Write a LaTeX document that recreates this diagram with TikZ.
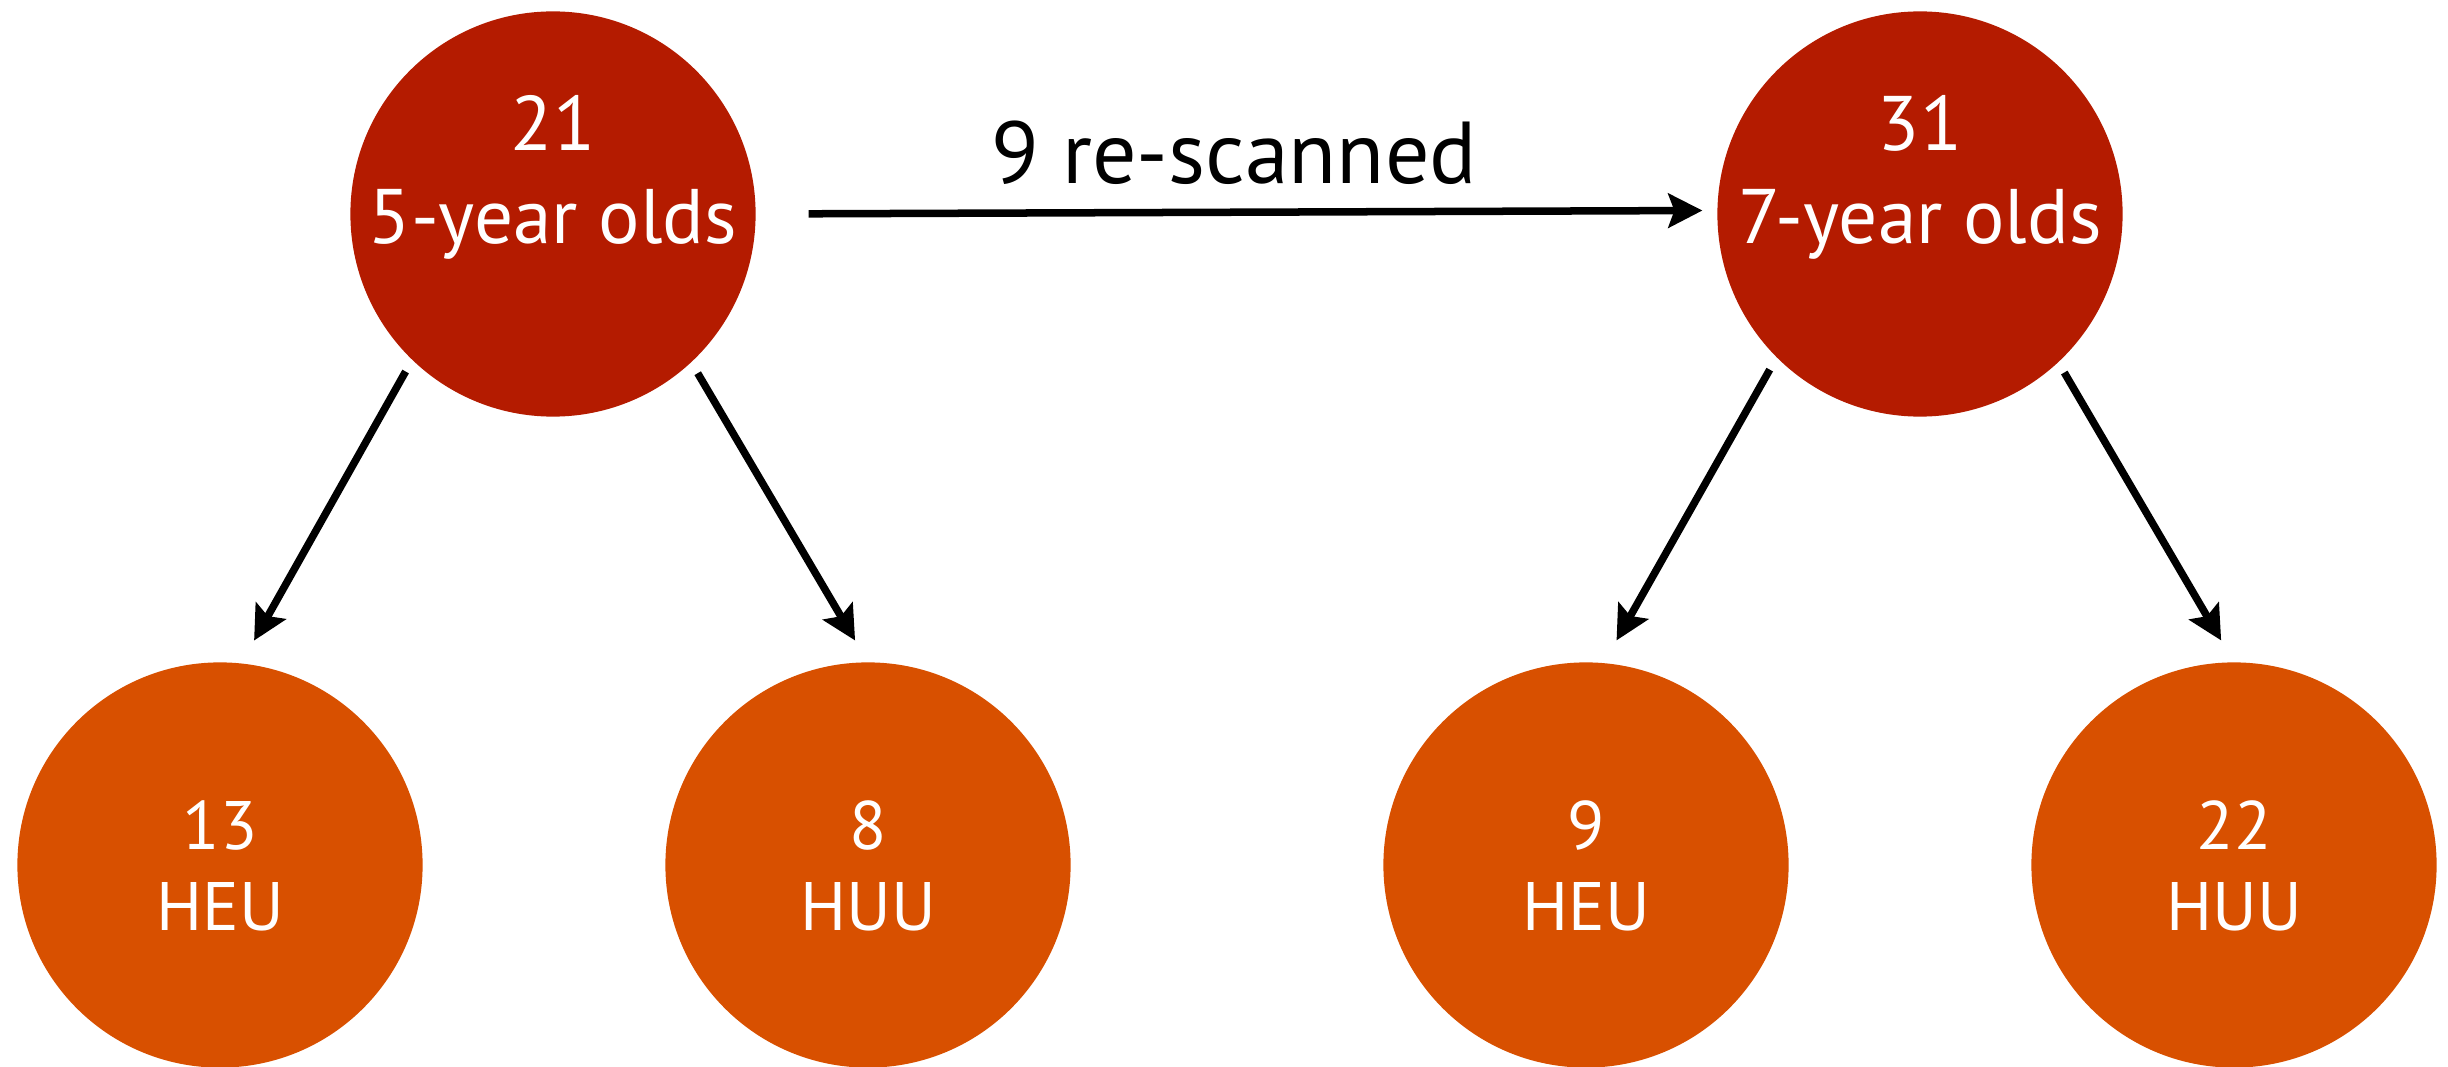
\documentclass[tikz,border=0pt]{standalone}
\usepackage{fontspec}
\setmainfont{PT Sans}
\usetikzlibrary{arrows.meta}
\definecolor{topred}{HTML}{B41B00}
\definecolor{botorange}{HTML}{D85000}
\begin{document}
\begin{tikzpicture}[x=0.01cm,y=-0.01cm,
  topc/.style={circle,fill=topred,minimum size=4.05cm,inner sep=0pt,outer sep=0pt},
  botc/.style={circle,fill=botorange,minimum size=4.05cm,inner sep=0pt,outer sep=0pt},
  toptxt/.style={text=white,font=\fontsize{22}{26}\selectfont,anchor=base,inner sep=0pt},
  bottxt/.style={text=white,font=\fontsize{19.5}{23}\selectfont,anchor=base,inner sep=0pt},
  lbl/.style={text=black,font=\fontsize{25}{29}\selectfont,anchor=base,inner sep=0pt},
  arr/.style={line width=0.075cm,-{Stealth[length=0.34cm,width=0.34cm,inset=0.06cm]}}]
\useasboundingbox (0,0) rectangle (2448,1067);
% circles
\node[topc] (t1) at (553,214) {};
\node[topc] (t2) at (1920,214) {};
\node[botc] (b1) at (220,865) {};
\node[botc] (b2) at (868,865) {};
\node[botc] (b3) at (1586,865) {};
\node[botc] (b4) at (2234,865) {};
% texts
\node[toptxt] (t1n) at (553,151) {21};
\node[toptxt] (t1a) at (553,244) {5-year olds};
\node[toptxt] (t2n) at (1920,151) {31};
\node[toptxt] (t2a) at (1920,244) {7-year olds};
\node[bottxt] (b1n) at (220,849) {13};
\node[bottxt] (b1a) at (220,930) {HEU};
\node[bottxt] (b2n) at (868,849) {8};
\node[bottxt] (b2a) at (868,930) {HUU};
\node[bottxt] (b3n) at (1586,849) {9};
\node[bottxt] (b3a) at (1586,930) {HEU};
\node[bottxt] (b4n) at (2234,849) {22};
\node[bottxt] (b4a) at (2234,930) {HUU};
\node[lbl] (rs) at (1234,184) {9 re-scanned};
% arrows
\draw[arr, shorten <=0.53cm, shorten >=0.15cm] (t1.0.85) -- (t2.179.15);
\draw[arr, shorten <=0.135cm, shorten >=0.263cm] (t1.226) -- (b1.84.9);
\draw[arr, shorten <=0.128cm, shorten >=0.254cm] (t1.313.8) -- (b2.90.7);
\draw[arr, shorten <=0.142cm, shorten >=0.261cm] (t2.225.8) -- (b3.85.8);
\draw[arr, shorten <=0.12cm, shorten >=0.254cm] (t2.313.5) -- (b4.90.1);
\end{tikzpicture}
\end{document}
